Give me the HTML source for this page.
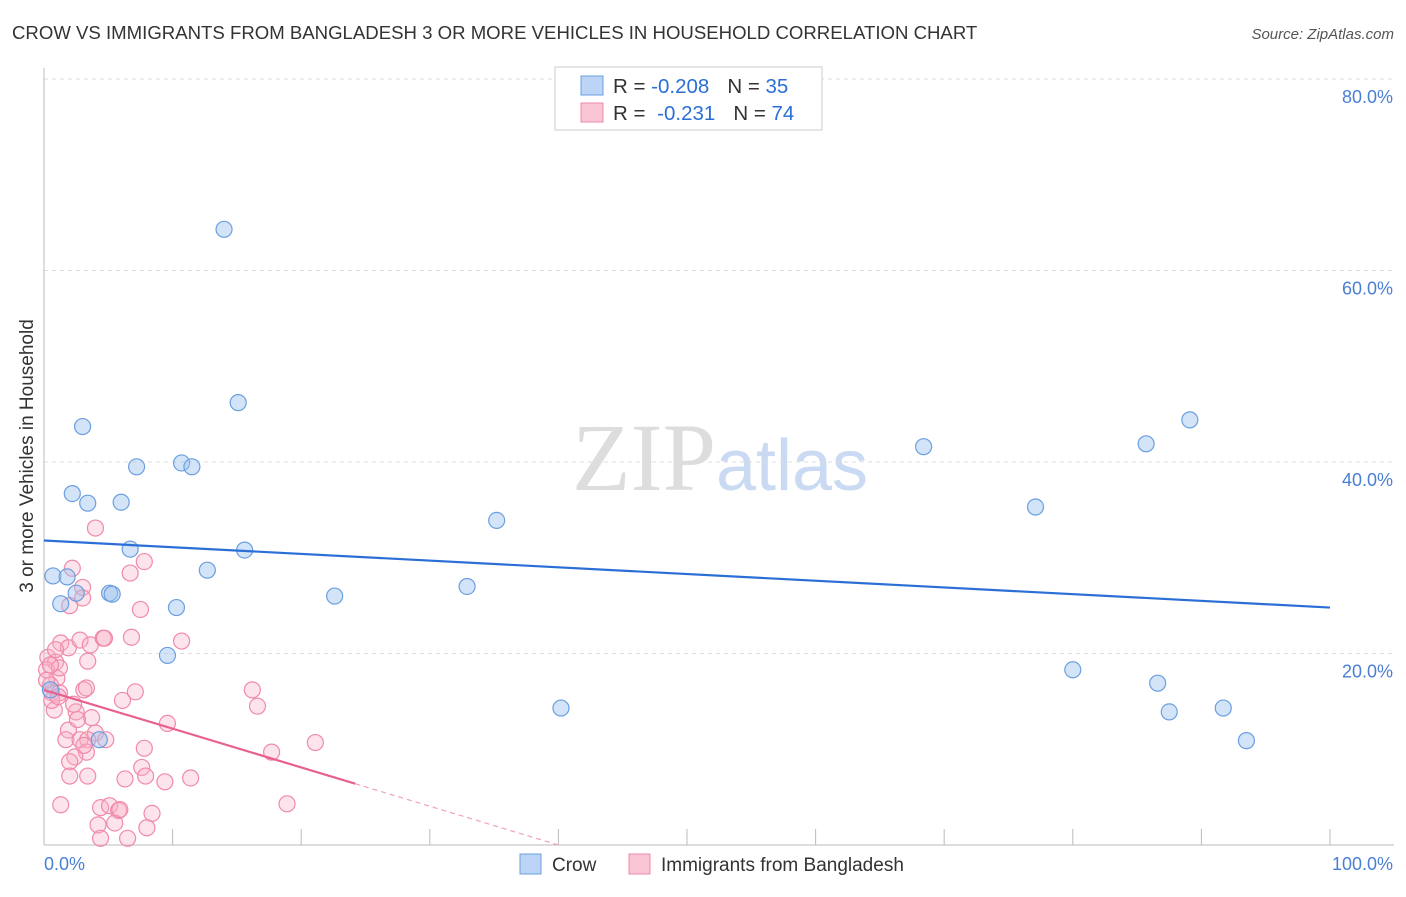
<!DOCTYPE html>
<html><head><meta charset="utf-8"><style>
body{margin:0;background:#fff;font-family:"Liberation Sans",sans-serif}
</style></head><body>
<svg id="chart" width="1406" height="892" xmlns="http://www.w3.org/2000/svg" font-family="Liberation Sans, sans-serif">
<text x="12" y="39" font-size="18.6" fill="#333">CROW VS IMMIGRANTS FROM BANGLADESH 3 OR MORE VEHICLES IN HOUSEHOLD CORRELATION CHART</text>
<text x="1394" y="39" font-size="15" fill="#555" text-anchor="end" font-style="italic">Source: ZipAtlas.com</text>
<text x="720" y="490" font-size="96" text-anchor="middle" fill="#ddd" font-family="Liberation Serif, serif">ZIP<tspan fill="#c9daf2" font-family="Liberation Sans, sans-serif" font-size="72">atlas</tspan></text>
<text transform="translate(33,456) rotate(-90)" font-size="19" fill="#333" text-anchor="middle">3 or more Vehicles in Household</text>
<g id="grid"></g><g id="axes"></g><g id="marks"></g>
<g>
<rect x="555" y="67" width="267" height="63" fill="#fff" stroke="#ccc"/>
<rect x="581" y="76" width="22" height="19" fill="#bcd4f5" stroke="#6a9fe0"/>
<rect x="581" y="103" width="22" height="19" fill="#f9c6d6" stroke="#f08aaa"/>
<text x="613" y="93" font-size="20.5" fill="#333">R = <tspan fill="#2b6fd6">-0.208</tspan><tspan dx="18">N = </tspan><tspan fill="#2b6fd6">35</tspan></text>
<text x="613" y="120" font-size="20.5" fill="#333">R = <tspan fill="#2b6fd6" dx="6">-0.231</tspan><tspan dx="18">N = </tspan><tspan fill="#2b6fd6">74</tspan></text>
</g>
<g>
<rect x="520" y="854" width="21" height="20" fill="#bcd4f5" stroke="#6a9fe0"/>
<text x="552" y="871" font-size="19" fill="#333">Crow</text>
<rect x="629" y="854" width="21" height="20" fill="#f9c6d6" stroke="#f08aaa"/>
<text x="661" y="871" font-size="19" fill="#333">Immigrants from Bangladesh</text>
</g>
</svg>
<script>
const yTicks=[20,40,60,80];
const xTickLabels=["0.0%","100.0%"];
const crowX=[14.0,15.1,3.0,7.2,10.7,11.5,2.2,3.4,6.0,6.7,15.6,35.2,0.7,1.8,1.3,2.5,5.1,5.3,12.7,10.3,22.6,32.9,9.6,4.3,40.2,68.4,77.1,85.7,89.1,80.0,86.6,87.5,91.7,93.5,0.5];
const crowY=[64.3,46.2,43.7,39.5,39.9,39.5,36.7,35.7,35.8,30.9,30.8,33.9,28.1,28.0,25.2,26.3,26.3,26.2,28.7,24.8,26.0,27.0,19.8,11.0,14.3,41.6,35.3,41.9,44.4,18.3,16.9,13.9,14.3,10.9,16.2];
const bangX=[4.0,2.2,7.8,6.7,3.0,3.0,2.0,7.5,1.3,1.9,2.8,3.6,4.6,4.7,6.8,10.7,0.3,0.9,3.4,0.2,1.0,0.5,0.6,1.2,3.1,3.3,7.1,6.1,16.2,16.6,0.8,2.5,3.7,9.6,1.9,4.0,1.7,2.8,3.4,4.8,7.8,3.3,2.4,2.0,17.7,21.1,7.6,6.3,2.0,3.4,7.9,9.4,11.4,1.3,4.4,5.1,5.8,8.4,18.9,4.2,5.5,8.0,4.4,6.5,0.6,0.2,0.9,1.2,1.1,2.3,3.1,5.9,0.5,2.6];
const bangY=[33.1,28.9,29.6,28.4,26.9,25.8,25.0,24.6,21.1,20.6,21.4,20.9,21.6,21.6,21.7,21.3,19.6,19.1,19.2,18.3,17.4,16.7,15.9,15.9,16.2,16.4,16.0,15.1,16.2,14.5,14.1,13.9,13.3,12.7,12.0,11.7,11.0,11.0,11.0,11.0,10.1,9.7,9.2,8.7,9.7,10.7,8.1,6.9,7.2,7.2,7.2,6.6,7.0,4.2,3.9,4.1,3.6,3.3,4.3,2.1,2.3,1.8,0.7,0.7,15.1,17.2,20.4,18.5,15.5,14.7,10.4,3.7,18.8,13.1];
const crowTrend=[31.8,24.8];
const bangTrend=[16.2,0.0];
const bangTrendEndX=40;
const bangSolidEnd=24.2;
const X0=44,X1=1330,Y0=845,Y1=79;
const sx=v=>X0+(X1-X0)*v/100, sy=v=>Y0-(Y0-Y1)*v/80;
const NS="http://www.w3.org/2000/svg";
function mk(t,a,p){const e=document.createElementNS(NS,t);for(const k in a)e.setAttribute(k,a[k]);p.appendChild(e);return e;}
const grid=document.getElementById('grid'),axes=document.getElementById('axes'),marks=document.getElementById('marks');
yTicks.forEach(t=>{
 const l=mk('line',{x1:X0,x2:1394,y1:sy(t),y2:sy(t),stroke:'#ddd','stroke-dasharray':'4,4'},grid);
 
 
 const tx=mk('text',{x:1393,y:sy(t)+24,'font-size':18,fill:'#4a7fd4','text-anchor':'end'},axes);
 tx.textContent=t.toFixed(1)+'%';
 
 
});
const ax=mk('line',{x1:X0,x2:X0,y1:68,y2:Y0,stroke:'#bbb'},axes);


const xa=mk('line',{x1:X0,x2:1394,y1:Y0,y2:Y0,stroke:'#bbb'},axes);


for(let i=0;i<=10;i++){const t=mk('line',{x1:sx(i*10),x2:sx(i*10),y1:Y0,y2:Y0-16,stroke:'#bbb'},axes);
 
 }
[[0,'start',44],[1,'end',1393]].forEach(([i,a,x])=>{const t=mk('text',{x:x,y:870,'font-size':18,fill:'#4a7fd4','text-anchor':a},axes);t.textContent=xTickLabels[i];
 
 });
bangX.forEach((x,i)=>{const c=mk('circle',{cx:sx(x),cy:sy(bangY[i]),r:8,fill:'rgba(248,175,198,0.35)',stroke:'#f08aaa','stroke-width':1.2},marks);
 
 });
crowX.forEach((x,i)=>{const c=mk('circle',{cx:sx(x),cy:sy(crowY[i]),r:8,fill:'rgba(160,195,240,0.45)',stroke:'#6a9fe0','stroke-width':1.2},marks);
 
 });
const bt=x=>bangTrend[0]+(bangTrend[1]-bangTrend[0])*x/bangTrendEndX;
const l1=mk('line',{x1:sx(0),y1:sy(crowTrend[0]),x2:sx(100),y2:sy(crowTrend[1]),stroke:'#2b6fd6','stroke-width':2.2},marks);


const l2=mk('line',{x1:sx(0),y1:sy(bt(0)),x2:sx(bangSolidEnd),y2:sy(bt(bangSolidEnd)),stroke:'#e8608e','stroke-width':2.2},marks);


const l3=mk('line',{x1:sx(bangSolidEnd),y1:sy(bt(bangSolidEnd)),x2:sx(bangTrendEndX),y2:sy(bt(bangTrendEndX)),stroke:'#f0a0ba','stroke-width':1.2,'stroke-dasharray':'5,4'},marks);


</script>
</body></html>
